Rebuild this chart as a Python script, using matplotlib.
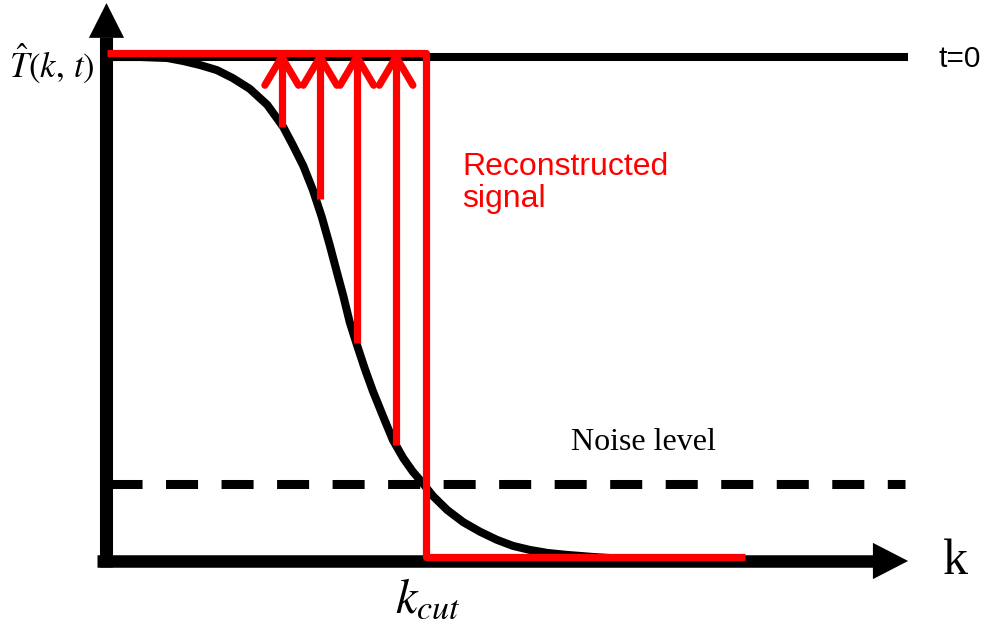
import matplotlib.pyplot as plt
from matplotlib.patches import Polygon

plt.rcParams['mathtext.fontset'] = 'stix'

# curva do sinal (k, T)
curva_k = [0.0, 0.042, 0.076, 0.096, 0.117, 0.138, 0.158, 0.179, 0.201, 0.221,
           0.233, 0.246, 0.258, 0.269, 0.279, 0.288, 0.296, 0.304, 0.313, 0.323,
           0.333, 0.346, 0.358, 0.371, 0.383, 0.396, 0.408, 0.426, 0.446, 0.467,
           0.488, 0.508, 0.529, 0.551, 0.576, 0.608, 0.667]
curva_T = [1.0, 1.0, 0.998, 0.992, 0.984, 0.974, 0.958, 0.937, 0.905, 0.861,
           0.825, 0.784, 0.736, 0.683, 0.627, 0.573, 0.526, 0.474, 0.429, 0.381,
           0.337, 0.286, 0.240, 0.204, 0.177, 0.153, 0.129, 0.101, 0.077, 0.058,
           0.042, 0.030, 0.022, 0.016, 0.012, 0.008, 0.002]

# sinal reconstruido (degrau)
k_cut = 0.4
degrau_k = [0.001, k_cut, k_cut, 0.798]
degrau_T = [1.007, 1.007, 0.008, 0.008]

# setas vermelhas
setas_k = [0.219, 0.267, 0.313, 0.362]
setas_base = [0.861, 0.718, 0.433, 0.230]
seta_topo = 1.0

nivel_t0 = 1.0
nivel_ruido = 0.153

fig = plt.figure(figsize=(9.87, 6.26), dpi=100)
ax = fig.add_axes([0, 0, 1, 1])
ax.set_xlim(-0.1331, 1.1006)
ax.set_ylim(-0.129, 1.1131)
ax.axis('off')

# eixos
ax.plot([-0.012, 0.96], [0, 0], color='black', lw=9, solid_capstyle='butt')
ax.plot([0, 0], [-0.012, 1.04], color='black', lw=9.4, solid_capstyle='butt')
ax.add_patch(Polygon([[0.958, -0.036], [0.958, 0.036], [1.002, 0]], closed=True,
                     color='black', lw=0))
ax.add_patch(Polygon([[-0.022, 1.038], [0.022, 1.038], [0, 1.107]], closed=True,
                     color='black', lw=0))

# linha t=0
ax.plot([0, 1.002], [nivel_t0, nivel_t0], color='black', lw=5.8, solid_capstyle='butt')

# nivel de ruido
ax.plot([0.004, 0.998], [nivel_ruido, nivel_ruido], color='black', lw=6.5,
        linestyle=(0, (3.55, 2.6)), dash_capstyle='butt')

# curva
ax.plot(curva_k, curva_T, color='black', lw=5.8, solid_joinstyle='round',
        solid_capstyle='round')

# sinal reconstruido
ax.plot(degrau_k, degrau_T, color='red', lw=5.2, solid_joinstyle='round',
        solid_capstyle='butt')

for x, b in zip(setas_k, setas_base):
    ax.plot([x, x], [b, seta_topo], color='red', lw=5.2, solid_capstyle='butt')
    ax.plot([x - 0.021, x, x + 0.021], [0.944, seta_topo, 0.944], color='red', lw=5.2,
            solid_joinstyle='round', solid_capstyle='round')

# textos
ax.text(-0.068, 0.988, r'$\hat{T}(k,\,t)$', fontsize=25, ha='center', va='center')
ax.text(1.067, 0.996, 't=0', fontsize=21.5, family='Liberation Sans',
        ha='center', va='center')
ax.text(0.445, 0.75, 'Reconstructed\nsignal', fontsize=23, color='red',
        family='Liberation Sans', ha='left', va='center', linespacing=1.05)
ax.text(0.671, 0.236, 'Noise level', fontsize=23, family='Liberation Serif',
        ha='center', va='center')
ax.text(1.061, -0.002, 'k', fontsize=36, family='Liberation Serif',
        ha='center', va='center')
ax.text(0.402, -0.075, r'$k_{cut}$', fontsize=35, ha='center', va='center')

fig.savefig('out.png', dpi=100)
